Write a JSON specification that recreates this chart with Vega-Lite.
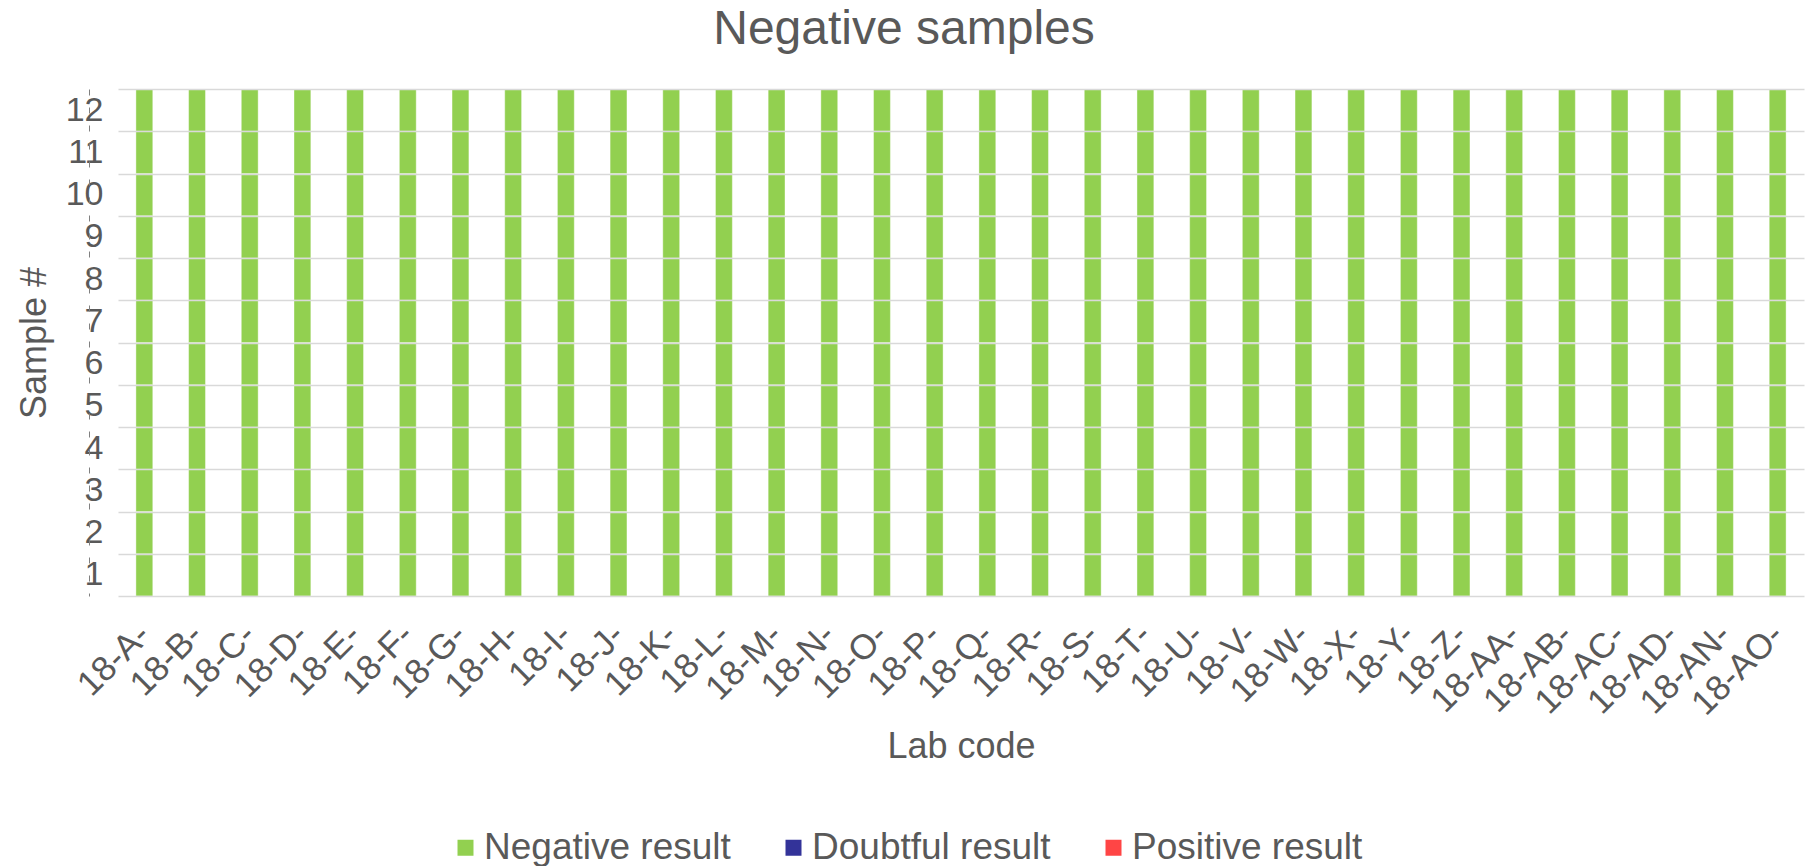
{
  "$schema": "https://vega.github.io/schema/vega-lite/v6.json",
  "autosize": {"type": "none"},
  "width": 1686,
  "height": 507,
  "padding": {"left": 118, "top": 89, "right": 2, "bottom": 270},
  "background": "white",
  "config": {
    "font": "Liberation Sans",
    "view": {"stroke": null}
  },
  "title": {
    "text": "Negative samples",
    "anchor": "middle",
    "dx": -57,
    "fontSize": 48,
    "fontWeight": "normal",
    "color": "#595959",
    "font": "Liberation Sans",
    "offset": 18
  },
  "data": {
    "values": [
      {"lab":"18-A-","sample":1,"result":"Negative result"},{"lab":"18-A-","sample":2,"result":"Negative result"},{"lab":"18-A-","sample":3,"result":"Negative result"},{"lab":"18-A-","sample":4,"result":"Negative result"},{"lab":"18-A-","sample":5,"result":"Negative result"},{"lab":"18-A-","sample":6,"result":"Negative result"},{"lab":"18-A-","sample":7,"result":"Negative result"},{"lab":"18-A-","sample":8,"result":"Negative result"},{"lab":"18-A-","sample":9,"result":"Negative result"},{"lab":"18-A-","sample":10,"result":"Negative result"},{"lab":"18-A-","sample":11,"result":"Negative result"},{"lab":"18-A-","sample":12,"result":"Negative result"},
      {"lab":"18-B-","sample":1,"result":"Negative result"},{"lab":"18-B-","sample":2,"result":"Negative result"},{"lab":"18-B-","sample":3,"result":"Negative result"},{"lab":"18-B-","sample":4,"result":"Negative result"},{"lab":"18-B-","sample":5,"result":"Negative result"},{"lab":"18-B-","sample":6,"result":"Negative result"},{"lab":"18-B-","sample":7,"result":"Negative result"},{"lab":"18-B-","sample":8,"result":"Negative result"},{"lab":"18-B-","sample":9,"result":"Negative result"},{"lab":"18-B-","sample":10,"result":"Negative result"},{"lab":"18-B-","sample":11,"result":"Negative result"},{"lab":"18-B-","sample":12,"result":"Negative result"},
      {"lab":"18-C-","sample":1,"result":"Negative result"},{"lab":"18-C-","sample":2,"result":"Negative result"},{"lab":"18-C-","sample":3,"result":"Negative result"},{"lab":"18-C-","sample":4,"result":"Negative result"},{"lab":"18-C-","sample":5,"result":"Negative result"},{"lab":"18-C-","sample":6,"result":"Negative result"},{"lab":"18-C-","sample":7,"result":"Negative result"},{"lab":"18-C-","sample":8,"result":"Negative result"},{"lab":"18-C-","sample":9,"result":"Negative result"},{"lab":"18-C-","sample":10,"result":"Negative result"},{"lab":"18-C-","sample":11,"result":"Negative result"},{"lab":"18-C-","sample":12,"result":"Negative result"},
      {"lab":"18-D-","sample":1,"result":"Negative result"},{"lab":"18-D-","sample":2,"result":"Negative result"},{"lab":"18-D-","sample":3,"result":"Negative result"},{"lab":"18-D-","sample":4,"result":"Negative result"},{"lab":"18-D-","sample":5,"result":"Negative result"},{"lab":"18-D-","sample":6,"result":"Negative result"},{"lab":"18-D-","sample":7,"result":"Negative result"},{"lab":"18-D-","sample":8,"result":"Negative result"},{"lab":"18-D-","sample":9,"result":"Negative result"},{"lab":"18-D-","sample":10,"result":"Negative result"},{"lab":"18-D-","sample":11,"result":"Negative result"},{"lab":"18-D-","sample":12,"result":"Negative result"},
      {"lab":"18-E-","sample":1,"result":"Negative result"},{"lab":"18-E-","sample":2,"result":"Negative result"},{"lab":"18-E-","sample":3,"result":"Negative result"},{"lab":"18-E-","sample":4,"result":"Negative result"},{"lab":"18-E-","sample":5,"result":"Negative result"},{"lab":"18-E-","sample":6,"result":"Negative result"},{"lab":"18-E-","sample":7,"result":"Negative result"},{"lab":"18-E-","sample":8,"result":"Negative result"},{"lab":"18-E-","sample":9,"result":"Negative result"},{"lab":"18-E-","sample":10,"result":"Negative result"},{"lab":"18-E-","sample":11,"result":"Negative result"},{"lab":"18-E-","sample":12,"result":"Negative result"},
      {"lab":"18-F-","sample":1,"result":"Negative result"},{"lab":"18-F-","sample":2,"result":"Negative result"},{"lab":"18-F-","sample":3,"result":"Negative result"},{"lab":"18-F-","sample":4,"result":"Negative result"},{"lab":"18-F-","sample":5,"result":"Negative result"},{"lab":"18-F-","sample":6,"result":"Negative result"},{"lab":"18-F-","sample":7,"result":"Negative result"},{"lab":"18-F-","sample":8,"result":"Negative result"},{"lab":"18-F-","sample":9,"result":"Negative result"},{"lab":"18-F-","sample":10,"result":"Negative result"},{"lab":"18-F-","sample":11,"result":"Negative result"},{"lab":"18-F-","sample":12,"result":"Negative result"},
      {"lab":"18-G-","sample":1,"result":"Negative result"},{"lab":"18-G-","sample":2,"result":"Negative result"},{"lab":"18-G-","sample":3,"result":"Negative result"},{"lab":"18-G-","sample":4,"result":"Negative result"},{"lab":"18-G-","sample":5,"result":"Negative result"},{"lab":"18-G-","sample":6,"result":"Negative result"},{"lab":"18-G-","sample":7,"result":"Negative result"},{"lab":"18-G-","sample":8,"result":"Negative result"},{"lab":"18-G-","sample":9,"result":"Negative result"},{"lab":"18-G-","sample":10,"result":"Negative result"},{"lab":"18-G-","sample":11,"result":"Negative result"},{"lab":"18-G-","sample":12,"result":"Negative result"},
      {"lab":"18-H-","sample":1,"result":"Negative result"},{"lab":"18-H-","sample":2,"result":"Negative result"},{"lab":"18-H-","sample":3,"result":"Negative result"},{"lab":"18-H-","sample":4,"result":"Negative result"},{"lab":"18-H-","sample":5,"result":"Negative result"},{"lab":"18-H-","sample":6,"result":"Negative result"},{"lab":"18-H-","sample":7,"result":"Negative result"},{"lab":"18-H-","sample":8,"result":"Negative result"},{"lab":"18-H-","sample":9,"result":"Negative result"},{"lab":"18-H-","sample":10,"result":"Negative result"},{"lab":"18-H-","sample":11,"result":"Negative result"},{"lab":"18-H-","sample":12,"result":"Negative result"},
      {"lab":"18-I-","sample":1,"result":"Negative result"},{"lab":"18-I-","sample":2,"result":"Negative result"},{"lab":"18-I-","sample":3,"result":"Negative result"},{"lab":"18-I-","sample":4,"result":"Negative result"},{"lab":"18-I-","sample":5,"result":"Negative result"},{"lab":"18-I-","sample":6,"result":"Negative result"},{"lab":"18-I-","sample":7,"result":"Negative result"},{"lab":"18-I-","sample":8,"result":"Negative result"},{"lab":"18-I-","sample":9,"result":"Negative result"},{"lab":"18-I-","sample":10,"result":"Negative result"},{"lab":"18-I-","sample":11,"result":"Negative result"},{"lab":"18-I-","sample":12,"result":"Negative result"},
      {"lab":"18-J-","sample":1,"result":"Negative result"},{"lab":"18-J-","sample":2,"result":"Negative result"},{"lab":"18-J-","sample":3,"result":"Negative result"},{"lab":"18-J-","sample":4,"result":"Negative result"},{"lab":"18-J-","sample":5,"result":"Negative result"},{"lab":"18-J-","sample":6,"result":"Negative result"},{"lab":"18-J-","sample":7,"result":"Negative result"},{"lab":"18-J-","sample":8,"result":"Negative result"},{"lab":"18-J-","sample":9,"result":"Negative result"},{"lab":"18-J-","sample":10,"result":"Negative result"},{"lab":"18-J-","sample":11,"result":"Negative result"},{"lab":"18-J-","sample":12,"result":"Negative result"},
      {"lab":"18-K-","sample":1,"result":"Negative result"},{"lab":"18-K-","sample":2,"result":"Negative result"},{"lab":"18-K-","sample":3,"result":"Negative result"},{"lab":"18-K-","sample":4,"result":"Negative result"},{"lab":"18-K-","sample":5,"result":"Negative result"},{"lab":"18-K-","sample":6,"result":"Negative result"},{"lab":"18-K-","sample":7,"result":"Negative result"},{"lab":"18-K-","sample":8,"result":"Negative result"},{"lab":"18-K-","sample":9,"result":"Negative result"},{"lab":"18-K-","sample":10,"result":"Negative result"},{"lab":"18-K-","sample":11,"result":"Negative result"},{"lab":"18-K-","sample":12,"result":"Negative result"},
      {"lab":"18-L-","sample":1,"result":"Negative result"},{"lab":"18-L-","sample":2,"result":"Negative result"},{"lab":"18-L-","sample":3,"result":"Negative result"},{"lab":"18-L-","sample":4,"result":"Negative result"},{"lab":"18-L-","sample":5,"result":"Negative result"},{"lab":"18-L-","sample":6,"result":"Negative result"},{"lab":"18-L-","sample":7,"result":"Negative result"},{"lab":"18-L-","sample":8,"result":"Negative result"},{"lab":"18-L-","sample":9,"result":"Negative result"},{"lab":"18-L-","sample":10,"result":"Negative result"},{"lab":"18-L-","sample":11,"result":"Negative result"},{"lab":"18-L-","sample":12,"result":"Negative result"},
      {"lab":"18-M-","sample":1,"result":"Negative result"},{"lab":"18-M-","sample":2,"result":"Negative result"},{"lab":"18-M-","sample":3,"result":"Negative result"},{"lab":"18-M-","sample":4,"result":"Negative result"},{"lab":"18-M-","sample":5,"result":"Negative result"},{"lab":"18-M-","sample":6,"result":"Negative result"},{"lab":"18-M-","sample":7,"result":"Negative result"},{"lab":"18-M-","sample":8,"result":"Negative result"},{"lab":"18-M-","sample":9,"result":"Negative result"},{"lab":"18-M-","sample":10,"result":"Negative result"},{"lab":"18-M-","sample":11,"result":"Negative result"},{"lab":"18-M-","sample":12,"result":"Negative result"},
      {"lab":"18-N-","sample":1,"result":"Negative result"},{"lab":"18-N-","sample":2,"result":"Negative result"},{"lab":"18-N-","sample":3,"result":"Negative result"},{"lab":"18-N-","sample":4,"result":"Negative result"},{"lab":"18-N-","sample":5,"result":"Negative result"},{"lab":"18-N-","sample":6,"result":"Negative result"},{"lab":"18-N-","sample":7,"result":"Negative result"},{"lab":"18-N-","sample":8,"result":"Negative result"},{"lab":"18-N-","sample":9,"result":"Negative result"},{"lab":"18-N-","sample":10,"result":"Negative result"},{"lab":"18-N-","sample":11,"result":"Negative result"},{"lab":"18-N-","sample":12,"result":"Negative result"},
      {"lab":"18-O-","sample":1,"result":"Negative result"},{"lab":"18-O-","sample":2,"result":"Negative result"},{"lab":"18-O-","sample":3,"result":"Negative result"},{"lab":"18-O-","sample":4,"result":"Negative result"},{"lab":"18-O-","sample":5,"result":"Negative result"},{"lab":"18-O-","sample":6,"result":"Negative result"},{"lab":"18-O-","sample":7,"result":"Negative result"},{"lab":"18-O-","sample":8,"result":"Negative result"},{"lab":"18-O-","sample":9,"result":"Negative result"},{"lab":"18-O-","sample":10,"result":"Negative result"},{"lab":"18-O-","sample":11,"result":"Negative result"},{"lab":"18-O-","sample":12,"result":"Negative result"},
      {"lab":"18-P-","sample":1,"result":"Negative result"},{"lab":"18-P-","sample":2,"result":"Negative result"},{"lab":"18-P-","sample":3,"result":"Negative result"},{"lab":"18-P-","sample":4,"result":"Negative result"},{"lab":"18-P-","sample":5,"result":"Negative result"},{"lab":"18-P-","sample":6,"result":"Negative result"},{"lab":"18-P-","sample":7,"result":"Negative result"},{"lab":"18-P-","sample":8,"result":"Negative result"},{"lab":"18-P-","sample":9,"result":"Negative result"},{"lab":"18-P-","sample":10,"result":"Negative result"},{"lab":"18-P-","sample":11,"result":"Negative result"},{"lab":"18-P-","sample":12,"result":"Negative result"},
      {"lab":"18-Q-","sample":1,"result":"Negative result"},{"lab":"18-Q-","sample":2,"result":"Negative result"},{"lab":"18-Q-","sample":3,"result":"Negative result"},{"lab":"18-Q-","sample":4,"result":"Negative result"},{"lab":"18-Q-","sample":5,"result":"Negative result"},{"lab":"18-Q-","sample":6,"result":"Negative result"},{"lab":"18-Q-","sample":7,"result":"Negative result"},{"lab":"18-Q-","sample":8,"result":"Negative result"},{"lab":"18-Q-","sample":9,"result":"Negative result"},{"lab":"18-Q-","sample":10,"result":"Negative result"},{"lab":"18-Q-","sample":11,"result":"Negative result"},{"lab":"18-Q-","sample":12,"result":"Negative result"},
      {"lab":"18-R-","sample":1,"result":"Negative result"},{"lab":"18-R-","sample":2,"result":"Negative result"},{"lab":"18-R-","sample":3,"result":"Negative result"},{"lab":"18-R-","sample":4,"result":"Negative result"},{"lab":"18-R-","sample":5,"result":"Negative result"},{"lab":"18-R-","sample":6,"result":"Negative result"},{"lab":"18-R-","sample":7,"result":"Negative result"},{"lab":"18-R-","sample":8,"result":"Negative result"},{"lab":"18-R-","sample":9,"result":"Negative result"},{"lab":"18-R-","sample":10,"result":"Negative result"},{"lab":"18-R-","sample":11,"result":"Negative result"},{"lab":"18-R-","sample":12,"result":"Negative result"},
      {"lab":"18-S-","sample":1,"result":"Negative result"},{"lab":"18-S-","sample":2,"result":"Negative result"},{"lab":"18-S-","sample":3,"result":"Negative result"},{"lab":"18-S-","sample":4,"result":"Negative result"},{"lab":"18-S-","sample":5,"result":"Negative result"},{"lab":"18-S-","sample":6,"result":"Negative result"},{"lab":"18-S-","sample":7,"result":"Negative result"},{"lab":"18-S-","sample":8,"result":"Negative result"},{"lab":"18-S-","sample":9,"result":"Negative result"},{"lab":"18-S-","sample":10,"result":"Negative result"},{"lab":"18-S-","sample":11,"result":"Negative result"},{"lab":"18-S-","sample":12,"result":"Negative result"},
      {"lab":"18-T-","sample":1,"result":"Negative result"},{"lab":"18-T-","sample":2,"result":"Negative result"},{"lab":"18-T-","sample":3,"result":"Negative result"},{"lab":"18-T-","sample":4,"result":"Negative result"},{"lab":"18-T-","sample":5,"result":"Negative result"},{"lab":"18-T-","sample":6,"result":"Negative result"},{"lab":"18-T-","sample":7,"result":"Negative result"},{"lab":"18-T-","sample":8,"result":"Negative result"},{"lab":"18-T-","sample":9,"result":"Negative result"},{"lab":"18-T-","sample":10,"result":"Negative result"},{"lab":"18-T-","sample":11,"result":"Negative result"},{"lab":"18-T-","sample":12,"result":"Negative result"},
      {"lab":"18-U-","sample":1,"result":"Negative result"},{"lab":"18-U-","sample":2,"result":"Negative result"},{"lab":"18-U-","sample":3,"result":"Negative result"},{"lab":"18-U-","sample":4,"result":"Negative result"},{"lab":"18-U-","sample":5,"result":"Negative result"},{"lab":"18-U-","sample":6,"result":"Negative result"},{"lab":"18-U-","sample":7,"result":"Negative result"},{"lab":"18-U-","sample":8,"result":"Negative result"},{"lab":"18-U-","sample":9,"result":"Negative result"},{"lab":"18-U-","sample":10,"result":"Negative result"},{"lab":"18-U-","sample":11,"result":"Negative result"},{"lab":"18-U-","sample":12,"result":"Negative result"},
      {"lab":"18-V-","sample":1,"result":"Negative result"},{"lab":"18-V-","sample":2,"result":"Negative result"},{"lab":"18-V-","sample":3,"result":"Negative result"},{"lab":"18-V-","sample":4,"result":"Negative result"},{"lab":"18-V-","sample":5,"result":"Negative result"},{"lab":"18-V-","sample":6,"result":"Negative result"},{"lab":"18-V-","sample":7,"result":"Negative result"},{"lab":"18-V-","sample":8,"result":"Negative result"},{"lab":"18-V-","sample":9,"result":"Negative result"},{"lab":"18-V-","sample":10,"result":"Negative result"},{"lab":"18-V-","sample":11,"result":"Negative result"},{"lab":"18-V-","sample":12,"result":"Negative result"},
      {"lab":"18-W-","sample":1,"result":"Negative result"},{"lab":"18-W-","sample":2,"result":"Negative result"},{"lab":"18-W-","sample":3,"result":"Negative result"},{"lab":"18-W-","sample":4,"result":"Negative result"},{"lab":"18-W-","sample":5,"result":"Negative result"},{"lab":"18-W-","sample":6,"result":"Negative result"},{"lab":"18-W-","sample":7,"result":"Negative result"},{"lab":"18-W-","sample":8,"result":"Negative result"},{"lab":"18-W-","sample":9,"result":"Negative result"},{"lab":"18-W-","sample":10,"result":"Negative result"},{"lab":"18-W-","sample":11,"result":"Negative result"},{"lab":"18-W-","sample":12,"result":"Negative result"},
      {"lab":"18-X-","sample":1,"result":"Negative result"},{"lab":"18-X-","sample":2,"result":"Negative result"},{"lab":"18-X-","sample":3,"result":"Negative result"},{"lab":"18-X-","sample":4,"result":"Negative result"},{"lab":"18-X-","sample":5,"result":"Negative result"},{"lab":"18-X-","sample":6,"result":"Negative result"},{"lab":"18-X-","sample":7,"result":"Negative result"},{"lab":"18-X-","sample":8,"result":"Negative result"},{"lab":"18-X-","sample":9,"result":"Negative result"},{"lab":"18-X-","sample":10,"result":"Negative result"},{"lab":"18-X-","sample":11,"result":"Negative result"},{"lab":"18-X-","sample":12,"result":"Negative result"},
      {"lab":"18-Y-","sample":1,"result":"Negative result"},{"lab":"18-Y-","sample":2,"result":"Negative result"},{"lab":"18-Y-","sample":3,"result":"Negative result"},{"lab":"18-Y-","sample":4,"result":"Negative result"},{"lab":"18-Y-","sample":5,"result":"Negative result"},{"lab":"18-Y-","sample":6,"result":"Negative result"},{"lab":"18-Y-","sample":7,"result":"Negative result"},{"lab":"18-Y-","sample":8,"result":"Negative result"},{"lab":"18-Y-","sample":9,"result":"Negative result"},{"lab":"18-Y-","sample":10,"result":"Negative result"},{"lab":"18-Y-","sample":11,"result":"Negative result"},{"lab":"18-Y-","sample":12,"result":"Negative result"},
      {"lab":"18-Z-","sample":1,"result":"Negative result"},{"lab":"18-Z-","sample":2,"result":"Negative result"},{"lab":"18-Z-","sample":3,"result":"Negative result"},{"lab":"18-Z-","sample":4,"result":"Negative result"},{"lab":"18-Z-","sample":5,"result":"Negative result"},{"lab":"18-Z-","sample":6,"result":"Negative result"},{"lab":"18-Z-","sample":7,"result":"Negative result"},{"lab":"18-Z-","sample":8,"result":"Negative result"},{"lab":"18-Z-","sample":9,"result":"Negative result"},{"lab":"18-Z-","sample":10,"result":"Negative result"},{"lab":"18-Z-","sample":11,"result":"Negative result"},{"lab":"18-Z-","sample":12,"result":"Negative result"},
      {"lab":"18-AA-","sample":1,"result":"Negative result"},{"lab":"18-AA-","sample":2,"result":"Negative result"},{"lab":"18-AA-","sample":3,"result":"Negative result"},{"lab":"18-AA-","sample":4,"result":"Negative result"},{"lab":"18-AA-","sample":5,"result":"Negative result"},{"lab":"18-AA-","sample":6,"result":"Negative result"},{"lab":"18-AA-","sample":7,"result":"Negative result"},{"lab":"18-AA-","sample":8,"result":"Negative result"},{"lab":"18-AA-","sample":9,"result":"Negative result"},{"lab":"18-AA-","sample":10,"result":"Negative result"},{"lab":"18-AA-","sample":11,"result":"Negative result"},{"lab":"18-AA-","sample":12,"result":"Negative result"},
      {"lab":"18-AB-","sample":1,"result":"Negative result"},{"lab":"18-AB-","sample":2,"result":"Negative result"},{"lab":"18-AB-","sample":3,"result":"Negative result"},{"lab":"18-AB-","sample":4,"result":"Negative result"},{"lab":"18-AB-","sample":5,"result":"Negative result"},{"lab":"18-AB-","sample":6,"result":"Negative result"},{"lab":"18-AB-","sample":7,"result":"Negative result"},{"lab":"18-AB-","sample":8,"result":"Negative result"},{"lab":"18-AB-","sample":9,"result":"Negative result"},{"lab":"18-AB-","sample":10,"result":"Negative result"},{"lab":"18-AB-","sample":11,"result":"Negative result"},{"lab":"18-AB-","sample":12,"result":"Negative result"},
      {"lab":"18-AC-","sample":1,"result":"Negative result"},{"lab":"18-AC-","sample":2,"result":"Negative result"},{"lab":"18-AC-","sample":3,"result":"Negative result"},{"lab":"18-AC-","sample":4,"result":"Negative result"},{"lab":"18-AC-","sample":5,"result":"Negative result"},{"lab":"18-AC-","sample":6,"result":"Negative result"},{"lab":"18-AC-","sample":7,"result":"Negative result"},{"lab":"18-AC-","sample":8,"result":"Negative result"},{"lab":"18-AC-","sample":9,"result":"Negative result"},{"lab":"18-AC-","sample":10,"result":"Negative result"},{"lab":"18-AC-","sample":11,"result":"Negative result"},{"lab":"18-AC-","sample":12,"result":"Negative result"},
      {"lab":"18-AD-","sample":1,"result":"Negative result"},{"lab":"18-AD-","sample":2,"result":"Negative result"},{"lab":"18-AD-","sample":3,"result":"Negative result"},{"lab":"18-AD-","sample":4,"result":"Negative result"},{"lab":"18-AD-","sample":5,"result":"Negative result"},{"lab":"18-AD-","sample":6,"result":"Negative result"},{"lab":"18-AD-","sample":7,"result":"Negative result"},{"lab":"18-AD-","sample":8,"result":"Negative result"},{"lab":"18-AD-","sample":9,"result":"Negative result"},{"lab":"18-AD-","sample":10,"result":"Negative result"},{"lab":"18-AD-","sample":11,"result":"Negative result"},{"lab":"18-AD-","sample":12,"result":"Negative result"},
      {"lab":"18-AN-","sample":1,"result":"Negative result"},{"lab":"18-AN-","sample":2,"result":"Negative result"},{"lab":"18-AN-","sample":3,"result":"Negative result"},{"lab":"18-AN-","sample":4,"result":"Negative result"},{"lab":"18-AN-","sample":5,"result":"Negative result"},{"lab":"18-AN-","sample":6,"result":"Negative result"},{"lab":"18-AN-","sample":7,"result":"Negative result"},{"lab":"18-AN-","sample":8,"result":"Negative result"},{"lab":"18-AN-","sample":9,"result":"Negative result"},{"lab":"18-AN-","sample":10,"result":"Negative result"},{"lab":"18-AN-","sample":11,"result":"Negative result"},{"lab":"18-AN-","sample":12,"result":"Negative result"},
      {"lab":"18-AO-","sample":1,"result":"Negative result"},{"lab":"18-AO-","sample":2,"result":"Negative result"},{"lab":"18-AO-","sample":3,"result":"Negative result"},{"lab":"18-AO-","sample":4,"result":"Negative result"},{"lab":"18-AO-","sample":5,"result":"Negative result"},{"lab":"18-AO-","sample":6,"result":"Negative result"},{"lab":"18-AO-","sample":7,"result":"Negative result"},{"lab":"18-AO-","sample":8,"result":"Negative result"},{"lab":"18-AO-","sample":9,"result":"Negative result"},{"lab":"18-AO-","sample":10,"result":"Negative result"},{"lab":"18-AO-","sample":11,"result":"Negative result"},{"lab":"18-AO-","sample":12,"result":"Negative result"}
    ]
  },
  "mark": {"type": "rect", "stroke": "#ffffff", "strokeOpacity": 0.4, "strokeWidth": 1},
  "encoding": {
    "x": {
      "field": "lab",
      "type": "nominal",
      "sort": null,
      "scale": {"paddingInner": 0.68, "paddingOuter": 0.34},
      "axis": {
        "title": "Lab code",
        "titleFontSize": 36,
        "titleFontWeight": "normal",
        "titleColor": "#595959",
        "titlePadding": 8,
        "labelAngle": -45,
        "labelAlign": "right",
        "labelBaseline": "middle",
        "labelFontSize": 35,
        "labelColor": "#595959",
        "labelPadding": 33,
        "labelOverlap": false,
        "labelLimit": 300,
        "ticks": false,
        "tickSize": 0,
        "domain": false,
        "grid": false
      }
    },
    "y": {
      "field": "sample",
      "type": "ordinal",
      "sort": "descending",
      "scale": {"paddingInner": 0, "paddingOuter": 0},
      "axis": {
        "title": "Sample #",
        "titleFontSize": 36,
        "titleFontWeight": "normal",
        "titleColor": "#595959",
        "titlePadding": 12,
        "labelFontSize": 34,
        "labelColor": "#595959",
        "labelPadding": -14,
        "ticks": false,
        "tickSize": 0,
        "offset": 29,
        "domain": true,
        "domainColor": "#808080",
        "domainDash": [6, 12],
        "domainWidth": 1,
        "grid": true,
        "tickBand": "extent",
        "gridColor": "#d9d9d9",
        "gridWidth": 1.5
      }
    },
    "color": {
      "field": "result",
      "type": "nominal",
      "scale": {
        "domain": ["Negative result", "Doubtful result", "Positive result"],
        "range": ["#92D050", "#333399", "#FF4545"]
      },
      "legend": {
        "title": null,
        "orient": "none",
        "direction": "horizontal",
        "legendX": 329,
        "legendY": 740,
        "symbolType": "square",
        "symbolSize": 256,
        "symbolStrokeWidth": 0,
        "labelFontSize": 37,
        "labelColor": "#595959",
        "labelOffset": 0,
        "labelLimit": 400,
        "columnPadding": 44
      }
    }
  }
}
